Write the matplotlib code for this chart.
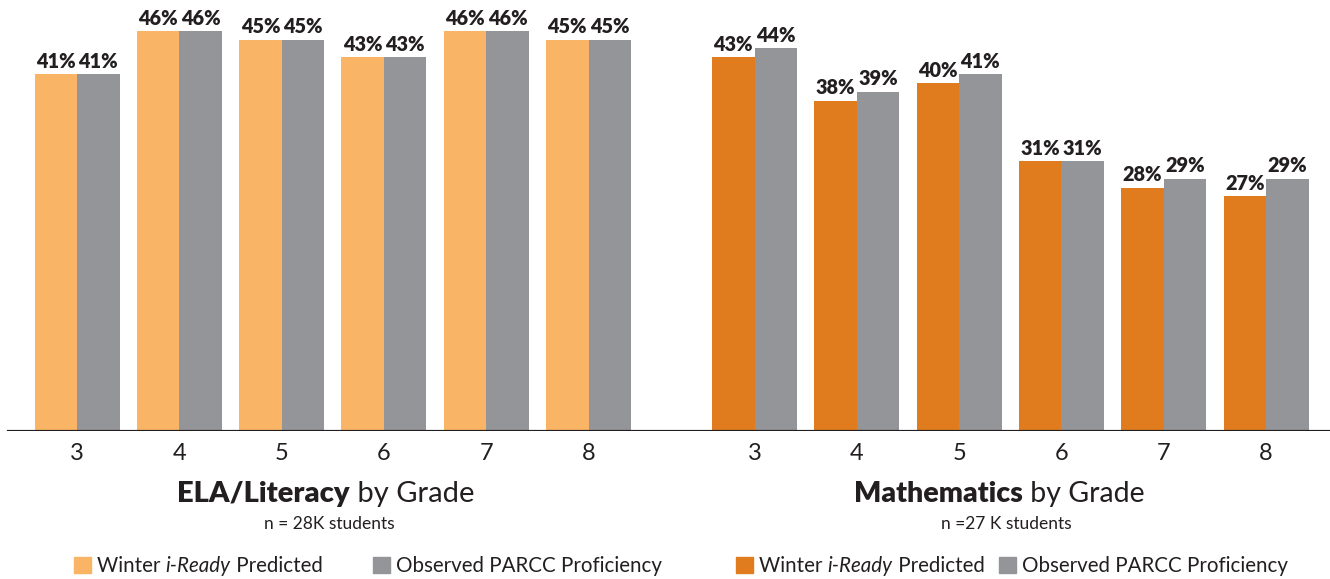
import matplotlib
matplotlib.use("Agg")
import matplotlib.pyplot as plt
from matplotlib.patches import Rectangle
import numpy as np

plt.rcParams['font.family'] = ['Lato', 'DejaVu Sans']

# data
grades = ["3", "4", "5", "6", "7", "8"]
ela_predicted = [41, 46, 45, 43, 46, 45]
ela_observed = [41, 46, 45, 43, 46, 45]
math_predicted = [43, 38, 40, 31, 28, 27]
math_observed = [44, 39, 41, 31, 29, 29]

# colours
ela_orange = '#F9B466'
math_orange = '#E07C1E'
grey = '#939598'
ink = '#231F20'

W, H = 1330, 579
fig = plt.figure(figsize=(13.3, 5.79), dpi=100)
ax = fig.add_axes([0, 1 - 431 / H, 1, 431 / H])

step = 102.3
ela_x = np.arange(6)
math_x = np.arange(6) + 5 + 166 / step
bw = 42.5 / step

ax.bar(ela_x - bw / 2, ela_predicted, width=bw, color=ela_orange)
ax.bar(ela_x + bw / 2, ela_observed, width=bw, color=grey)
ax.bar(math_x - bw / 2, math_predicted, width=bw, color=math_orange)
ax.bar(math_x + bw / 2, math_observed, width=bw, color=grey)

# value labels
for xs, vals, off in [(ela_x, ela_predicted, -1), (ela_x, ela_observed, 1),
                      (math_x, math_predicted, -1), (math_x, math_observed, 1)]:
    for x, v in zip(xs, vals):
        ax.annotate(f"{v}%", (x + off * bw / 2, v), xytext=(0, 2.5), textcoords='offset points',
                    ha='center', va='bottom', fontsize=14.3, fontweight='heavy', color=ink)

ax.set_xlim(-77 / step, -77 / step + W / step)
ax.set_ylim(0, 431 / (400 / 46))
ax.axhline(0, xmin=8 / W, xmax=1, color=ink, lw=2.3)

ax.set_xticks(np.concatenate([ela_x, math_x]))
ax.set_xticklabels(grades + grades, fontsize=17, color=ink)
ax.tick_params(axis='x', length=0, pad=9)
ax.set_yticks([])
for s in ax.spines.values():
    s.set_visible(False)

renderer = fig.canvas.get_renderer()


def mixed_text(pieces, x_px, y_px, ha='center', size=13):
    # pieces: list of (text, weight, style)
    objs = []
    for txt, weight, style in pieces:
        t = fig.text(0, y_px, txt, fontsize=size, fontweight=weight, fontstyle=style,
                     color=ink, va='center', ha='left', transform=None)
        objs.append(t)
    widths = [o.get_window_extent(renderer).width for o in objs]
    total = sum(widths)
    x0 = x_px - total / 2 if ha == 'center' else x_px
    for o, w in zip(objs, widths):
        o.set_x(x0)
        x0 += w


def fy(y):
    return H - y


# group titles
ela_c = (ax.transData.transform((ela_x[0], 0))[0] + ax.transData.transform((ela_x[-1], 0))[0]) / 2
math_c = (ax.transData.transform((math_x[0], 0))[0] + ax.transData.transform((math_x[-1], 0))[0]) / 2
mixed_text([("ELA/Literacy", 'heavy', 'normal'), (" by Grade", 'normal', 'normal')], ela_c - 7, fy(494), size=21)
mixed_text([("Mathematics", 'heavy', 'normal'), (" by Grade", 'normal', 'normal')], math_c - 11, fy(494), size=20.5)
fig.text(ela_c - 3, fy(524), "n = 28K students", fontsize=12.5, color=ink, ha='center', va='center', transform=None)
fig.text(math_c - 4, fy(524), "n =27 K students", fontsize=12.5, color=ink, ha='center', va='center', transform=None)

# legends
legend_items = [(74, ela_orange, [("Winter ", 'normal', 'normal'), ("i-Ready", 'normal', 'italic'),
                                  (" Predicted", 'normal', 'normal')]),
                (373, grey, [("Observed PARCC Proficiency", 'normal', 'normal')]),
                (736, math_orange, [("Winter ", 'normal', 'normal'), ("i-Ready", 'normal', 'italic'),
                                    (" Predicted", 'normal', 'normal')]),
                (999, grey, [("Observed PARCC Proficiency", 'normal', 'normal')])]
for x_px, col, pieces in legend_items:
    fig.patches.append(Rectangle((x_px, fy(573)), 17, 16, color=col, transform=None))
    mixed_text(pieces, x_px + 23, fy(566), ha='left', size=14.8)

fig.savefig("out.png", dpi=100)
